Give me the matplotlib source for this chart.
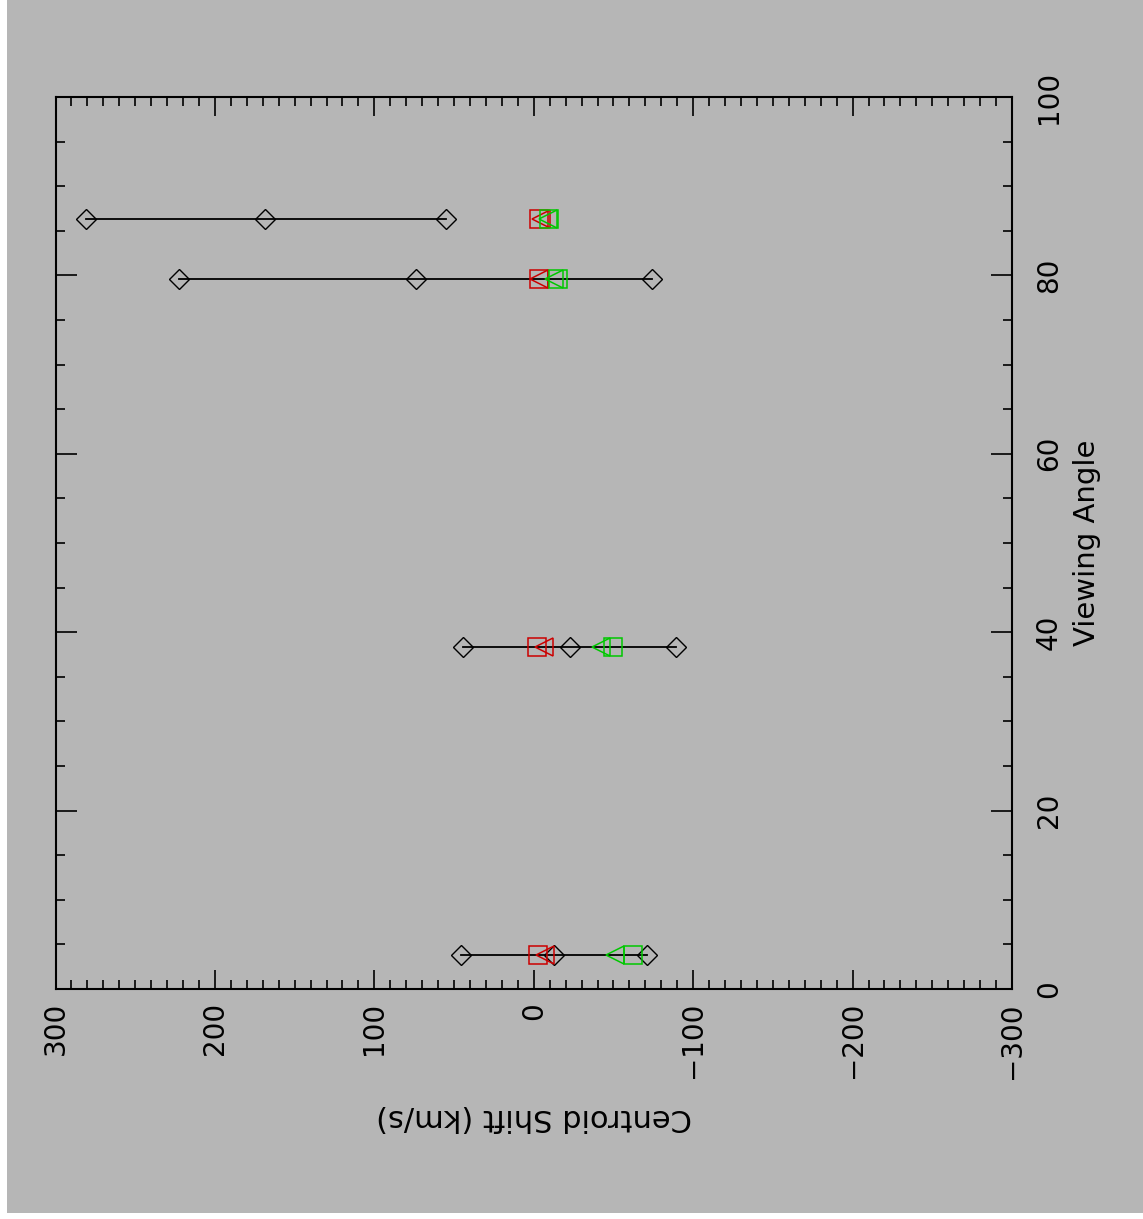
import matplotlib
matplotlib.use("Agg")
import matplotlib.pyplot as plt
from matplotlib.patches import Rectangle
from matplotlib.ticker import MultipleLocator

# ---- data ----
angles = [3.8, 38.3, 79.6, 86.3]                 # Viewing Angle
diamond_hi = [45.8, 44.4, 222.5, 281.0]           # km/s
diamond_mid = [-12.7, -22.8, 73.8, 168.6]
diamond_lo = [-71.1, -89.3, -74.2, 55.0]
red_square = [-2.6, -2.1, -3.0, -3.5]
red_triangle = [-7.3, -6.3, -3.5, -4.5]
green_triangle = [-51.0, -41.9, -12.5, -9.0]
green_square = [-62.2, -49.6, -15.3, -9.5]

xticks = [300, 200, 100, 0, -100, -200, -300]
yticks = [0, 20, 40, 60, 80, 100]

BG = "#b6b6b6"
RED = "#cc0000"
GREEN = "#00c800"

plt.rcParams["font.family"] = ["DejaVu Sans"]

W, H = 1143, 1219
fig = plt.figure(figsize=(W / 100, H / 100), dpi=100, facecolor="white")
fig.patches.append(Rectangle((7 / W, 6 / H), 1 - 7 / W, 1 - 6 / H,
                             transform=fig.transFigure, facecolor=BG,
                             edgecolor="none", zorder=-10))

left, right, top, bottom = 55.5, 1012, 97, 989
ax = fig.add_axes([left / W, (H - bottom) / H, (right - left) / W, (bottom - top) / H])
ax.set_zorder(1)
ax.set_facecolor("none")

# error lines + diamonds
for a, hi, mid, lo in zip(angles, diamond_hi, diamond_mid, diamond_lo):
    ax.plot([hi, lo], [a, a], color="black", lw=1.3, zorder=2)
ax.plot(diamond_hi + diamond_mid + diamond_lo, angles * 3, ls="none", marker="D",
        ms=9.7, mfc="none", mec="black", mew=1.0, zorder=3)

ax.plot(red_square, angles, ls="none", marker="s", ms=13.3, mfc="none", mec=RED, mew=1.1, zorder=4)
ax.plot(red_triangle, angles, ls="none", marker="<", ms=13.0, mfc="none", mec=RED, mew=1.1, zorder=4)
ax.plot(green_triangle, angles, ls="none", marker="<", ms=13.0, mfc="none", mec=GREEN, mew=1.1, zorder=4)
ax.plot(green_square, angles, ls="none", marker="s", ms=13.3, mfc="none", mec=GREEN, mew=1.1, zorder=4)

ax.set_xlim(300, -300)
ax.set_ylim(0, 100)
ax.set_xticks(xticks)
ax.set_xticklabels([str(v) if v >= 0 else "\u2212" + str(-v) for v in xticks])
ax.set_yticks(yticks)
ax.set_yticklabels([str(v) for v in yticks])
ax.xaxis.set_minor_locator(MultipleLocator(10))
ax.yaxis.set_minor_locator(MultipleLocator(5))

for s in ax.spines.values():
    s.set_linewidth(1.5)
    s.set_color("black")

ax.tick_params(axis="both", which="both", direction="in", top=True, bottom=True,
               left=True, right=True, color="black", width=1.2)
ax.tick_params(axis="x", which="major", length=13.5)
ax.tick_params(axis="y", which="major", length=15)
ax.tick_params(axis="both", which="minor", length=6.5)
ax.tick_params(axis="x", which="major", labelbottom=True, labeltop=False,
               labelsize=20, labelrotation=90, pad=9.4)
ax.tick_params(axis="y", which="major", labelleft=False, labelright=True,
               labelsize=20, labelrotation=90, pad=16.5)
for t in ax.yaxis.get_major_ticks():
    t.label2.set_va("center")
    t.label2.set_ha("left")

ax.set_xlabel("Centroid Shift (km/s)", fontsize=22, rotation=180, va="top", ha="center")
ax.xaxis.set_label_coords(0.5, -0.1278)
ax.yaxis.set_label_position("right")
ax.set_ylabel("Viewing Angle", fontsize=21, rotation=90)
ax.yaxis.label.set_rotation_mode("anchor")
ax.yaxis.label.set_ha("center")
ax.yaxis.label.set_va("top")
ax.yaxis.set_label_coords(1.0638, 0.5)

fig.savefig("out.png", dpi=100, facecolor=fig.get_facecolor())
